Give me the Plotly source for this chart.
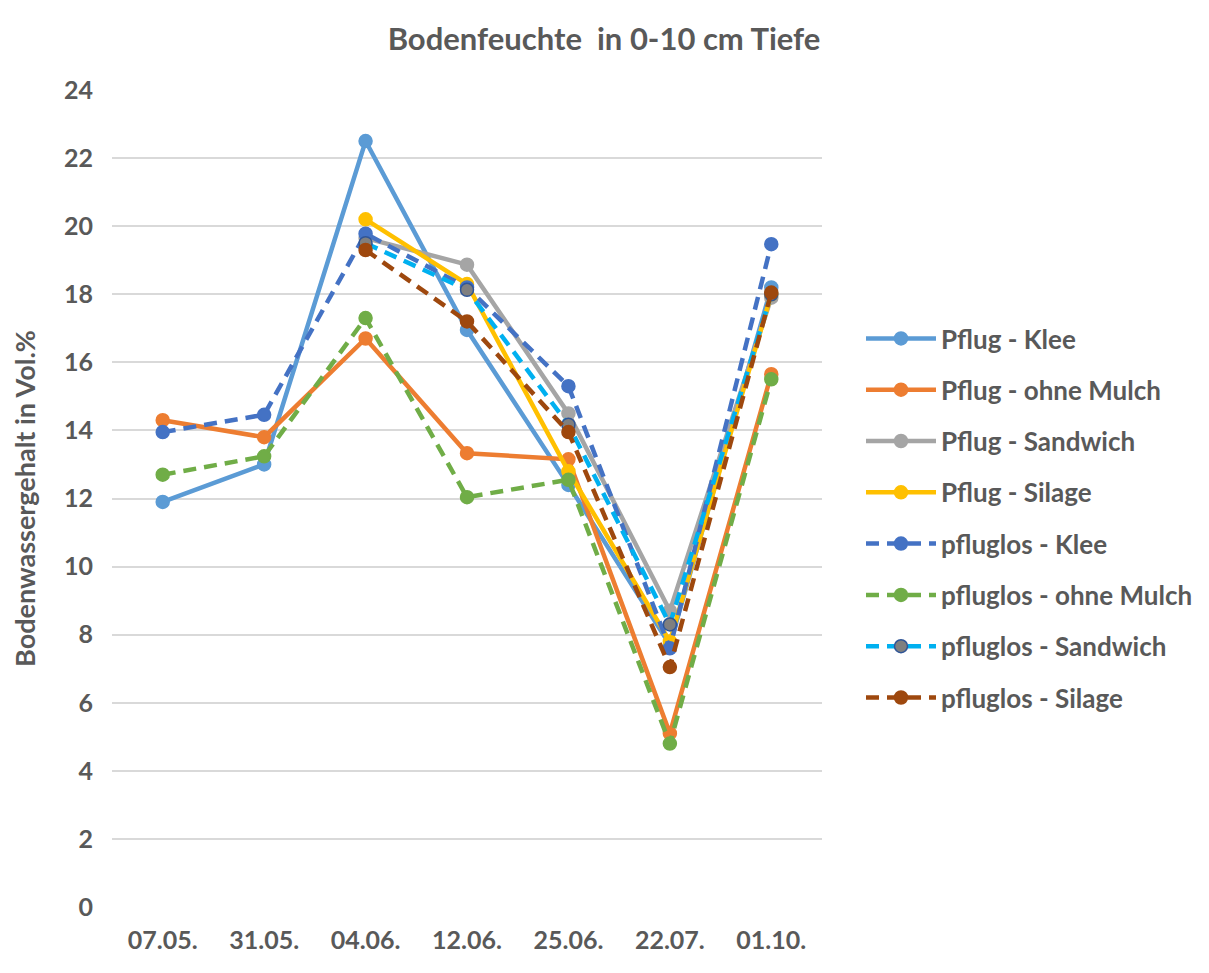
import plotly.graph_objects as go

dates = ["07.05.", "31.05.", "04.06.", "12.06.", "25.06.", "22.07.", "01.10."]

pflug_klee = [11.9, 13.0, 22.5, 16.95, 12.4, 7.7, 18.2]
pflug_ohne_mulch = [14.3, 13.8, 16.7, 13.33, 13.15, 5.1, 15.65]
pflug_sandwich = [None, None, 19.65, 18.87, 14.5, 8.7, 17.9]
pflug_silage = [None, None, 20.2, 18.3, 12.8, 7.8, 18.0]
pfluglos_klee = [13.95, 14.46, 19.78, 18.2, 15.3, 7.6, 19.47]
pfluglos_ohne_mulch = [12.7, 13.24, 17.3, 12.04, 12.55, 4.8, 15.5]
pfluglos_sandwich = [None, None, 19.5, 18.13, 14.17, 8.3, 18.0]
pfluglos_silage = [None, None, 19.3, 17.2, 13.95, 7.05, 18.05]

series = [
    ("Pflug - Klee", pflug_klee, "#5B9BD5", "solid", "#5B9BD5", "#5B9BD5"),
    ("Pflug - ohne Mulch", pflug_ohne_mulch, "#ED7D31", "solid", "#ED7D31", "#ED7D31"),
    ("Pflug - Sandwich", pflug_sandwich, "#A5A5A5", "solid", "#A5A5A5", "#A5A5A5"),
    ("Pflug - Silage", pflug_silage, "#FFC000", "solid", "#FFC000", "#FFC000"),
    ("pfluglos - Klee", pfluglos_klee, "#4472C4", "13px,8px", "#4472C4", "#4472C4"),
    ("pfluglos - ohne Mulch", pfluglos_ohne_mulch, "#70AD47", "13px,8px", "#70AD47", "#70AD47"),
    ("pfluglos - Sandwich", pfluglos_sandwich, "#00B0F0", "13px,8px", "#7F7F7F", "#2F5597"),
    ("pfluglos - Silage", pfluglos_silage, "#9E480E", "13px,8px", "#9E480E", "#9E480E"),
]

fig = go.Figure()
for i, (name, vals, col, dash, mfill, mline) in enumerate(series):
    fig.add_trace(go.Scatter(
        x=dates, y=vals, name=name, mode="lines+markers",
        line=dict(color=col, width=4.5, dash=dash),
        marker=dict(color=mfill, size=13, line=dict(color=mline, width=1.5)),
        legendgroup=f"g{i}",
    ))

W, H = 1209, 973
OFF_X, OFF_Y = 8, 7
L, R, T, B = 112 - OFF_X, 822 - OFF_X, 89 - OFF_Y, 906 - OFF_Y
font_fam = "Lato, 'Open Sans', sans-serif"
fig.update_layout(
    width=W, height=H,
    margin=dict(l=L, r=W - R, t=T, b=H - B, autoexpand=False),
    paper_bgcolor="white", plot_bgcolor="white",
    title=dict(text="Bodenfeuchte  in 0-10 cm Tiefe", x=(604 - OFF_X) / W, xanchor="center",
               y=1 - (38 - OFF_Y) / H, yanchor="middle",
               font=dict(family=font_fam, size=31, color="#595959", weight="bold")),
    font=dict(family=font_fam, color="#595959"),
    xaxis=dict(type="category", range=[-0.5, 6.5], autorange=False, automargin=False,
               tickfont=dict(size=25, weight="bold", color="#595959"),
               ticklabelstandoff=16,
               showgrid=False, showline=False, ticks="", ticklen=0),
    yaxis=dict(range=[0, 24], autorange=False, automargin=False, dtick=2,
               gridcolor="#D9D9D9", gridwidth=1.5,
               tickfont=dict(size=25, weight="bold", color="#595959"),
               ticklabelstandoff=18,
               zeroline=False, showline=False, ticks="",
               title=dict(text="Bodenwassergehalt in Vol.%", standoff=24,
                          font=dict(size=27, weight="bold", color="#595959"))),
    legend=dict(x=(861 - OFF_X - L) / (R - L), xanchor="left",
                y=(B - (517 - OFF_Y)) / (B - T), yanchor="middle",
                font=dict(size=26, weight="bold", color="#595959"),
                itemwidth=70, tracegroupgap=14.5, traceorder="grouped"),
)
fig.write_html("out.html")
